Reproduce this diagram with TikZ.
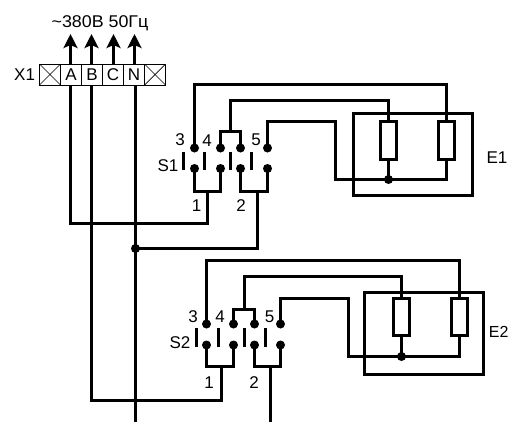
\documentclass[tikz,border=0pt]{standalone}
\usepackage{fontspec}
\setmainfont{Liberation Sans}
\usetikzlibrary{arrows.meta,calc}
\tikzset{
  every node/.style={inner sep=0pt,outer sep=0pt},
  wire/.style={line width=3pt,black,line cap=rect,line join=miter},
  feed/.style={line width=3pt,black,-{Stealth[length=14pt,width=14pt,inset=3pt]}},
  cell/.style={draw,line width=1pt,minimum width=21pt,minimum height=21pt,font=\fontsize{17}{17}\selectfont},
  xcell/.style={cell,path picture={\draw[line width=0.7pt] (path picture bounding box.north west)--(path picture bounding box.south east)
     (path picture bounding box.north east)--(path picture bounding box.south west);}},
  contact/.style={circle,fill=black,minimum size=9pt},
  joint/.style={circle,fill=black,minimum size=9pt},
  res/.style={draw,line width=3pt,minimum width=16pt},
  unit/.style={draw,line width=3pt},
  blade/.style={line width=3pt,black},
  lbl/.style={font=\fontsize{17}{17}\selectfont,text=black}
}
\begin{document}
\begin{tikzpicture}[x=1pt,y=-1pt]
\useasboundingbox (0,0) rectangle (509,421);
% terminal block
\node[xcell] (t0) at (50,74.5) {};
\node[cell] (tA) at (71,74.5) {A};
\node[cell] (tB) at (92,74.5) {B};
\node[cell] (tC) at (113,74.5) {C};
\node[cell] (tN) at (134,74.5) {N};
\node[xcell] (t5) at (155,74.5) {};
\node[lbl,anchor=east] (x1) at (35,75) {X1};
\node[lbl,xscale=1.05] (supply) at (100,23) {\char"7E 380В 50Гц};
\coordinate (aA) at (70.5,34); \coordinate (aB) at (91.5,34); \coordinate (aC) at (113.5,34); \coordinate (aN) at (134.5,34);
\draw[feed] (aA |- tA.north) -- (aA);
\draw[feed] (aB |- tB.north) -- (aB);
\draw[feed] (aC |- tC.north) -- (aC);
\draw[feed] (aN |- tN.north) -- (aN);
% S1
\foreach \n/\x in {a/194.5,b/220.5,c/240.5,d/267.5}{
  \node[contact] (s1u\n) at (\x,148) {};
  \node[contact] (s1l\n) at (\x,168.5) {};
}
\coordinate (s1bl1t) at (183.5,152); \coordinate (s1bl1b) at (183.5,170);
\coordinate (s1bl2t) at (204.5,152); \coordinate (s1bl2b) at (204.5,170);
\coordinate (s1bl3t) at (230.5,152); \coordinate (s1bl3b) at (230.5,170);
\coordinate (s1bl4t) at (251.5,152); \coordinate (s1bl4b) at (251.5,170);
\draw[blade] (s1bl1t)--(s1bl1b) (s1bl2t)--(s1bl2b) (s1bl3t)--(s1bl3b) (s1bl4t)--(s1bl4b);
\node[lbl] (l3a) at (180,140) {3};
\node[lbl] (l4a) at (207,140.5) {4};
\node[lbl] (l5a) at (256,140) {5};
\node[lbl] (ls1) at (168,166) {S1};
\node[lbl] (l1a) at (196.5,206) {1};
\node[lbl] (l2a) at (241,206) {2};
% E1
\node[unit,minimum width=119pt,minimum height=82pt] (e1) at (413,154.5) {};
\node[res,minimum height=38pt] (r1a) at (388.5,140.5) {};
\node[res,minimum height=38pt] (r1b) at (446.5,140.5) {};
\node[lbl] (le1) at (497,158) {E1};
\node[joint] (j1) at (388.5,179.5) {};
\coordinate (c1a) at (194.5,84.5); \coordinate (c1b) at (230.5,100.5); \coordinate (c1c) at (267.5,121.5); \coordinate (c1d) at (335.5,179.5);
\coordinate (b1u) at (230.5,131.5); \coordinate (b1l) at (207.5,191.5); \coordinate (b2l) at (257.5,191.5);
\draw[wire] (s1ua.center) |- (c1a) -| (r1b.north);
\draw[wire] (s1ub.center) |- (b1u) -| (s1uc.center);
\draw[wire] (b1u) |- (c1b) -| (r1a.north);
\draw[wire] (s1ud.center) |- (c1c) -| (c1d) -| (r1b.south);
\draw[wire] (r1a.south) -- (j1);
\draw[wire] (s1la.center) |- (b1l) -| (s1lb.center);
\draw[wire] (s1lc.center) |- (b2l) -| (s1ld.center);
% S2
\foreach \n/\x in {a/206.5,b/233.5,c/254.5,d/280.5}{
  \node[contact] (s2u\n) at (\x,324) {};
  \node[contact] (s2l\n) at (\x,345) {};
}
\coordinate (s2bl1t) at (196.5,328); \coordinate (s2bl1b) at (196.5,346.5);
\coordinate (s2bl2t) at (218.5,328); \coordinate (s2bl2b) at (218.5,346.5);
\coordinate (s2bl3t) at (244.5,328); \coordinate (s2bl3b) at (244.5,346.5);
\coordinate (s2bl4t) at (265.5,328); \coordinate (s2bl4b) at (265.5,346.5);
\draw[blade] (s2bl1t)--(s2bl1b) (s2bl2t)--(s2bl2b) (s2bl3t)--(s2bl3b) (s2bl4t)--(s2bl4b);
\node[lbl] (l3b) at (193,317) {3};
\node[lbl] (l4b) at (220,317) {4};
\node[lbl] (l5b) at (269.5,317) {5};
\node[lbl] (ls2) at (180,343) {S2};
\node[lbl] (l1b) at (209,383) {1};
\node[lbl] (l2b) at (254,383) {2};
% E2
\node[unit,minimum width=119pt,minimum height=82pt] (e2) at (424,333.5) {};
\node[res,minimum height=37pt] (r2a) at (401.5,317) {};
\node[res,minimum height=37pt] (r2b) at (459.5,317) {};
\node[lbl,anchor=east,font=\fontsize{16}{16}\selectfont] (le2) at (508.5,331.5) {E2};
\node[joint] (j2) at (401.5,356.5) {};
\coordinate (c2a) at (206.5,260.5); \coordinate (c2b) at (244.5,276.5); \coordinate (c2c) at (280.5,298.5); \coordinate (c2d) at (348.5,356.5);
\coordinate (b3u) at (244.5,309.5); \coordinate (b3l) at (221.5,366.5); \coordinate (b4l) at (270.5,366.5);
\draw[wire] (s2ua.center) |- (c2a) -| (r2b.north);
\draw[wire] (s2ub.center) |- (b3u) -| (s2uc.center);
\draw[wire] (b3u) |- (c2b) -| (r2a.north);
\draw[wire] (s2ud.center) |- (c2c) -| (c2d) -| (r2b.south);
\draw[wire] (r2a.south) -- (j2);
\draw[wire] (s2la.center) |- (b3l) -| (s2lb.center);
\draw[wire] (s2lc.center) |- (b4l) -| (s2ld.center);
% mains
\coordinate (wA) at (70.5,87); \coordinate (wB) at (91.5,87); \coordinate (wN) at (135.5,87);
\coordinate (endN) at (135.5,421); \coordinate (end2) at (270.5,421);
\node[joint] (jN) at (135.5,248.5) {};
\draw[wire] (wA) |- (207.5,223.5) -- (b1l);
\draw[wire] (wB) |- (221.5,400.5) -- (b3l);
\draw[wire] (wN) -- (endN);
\draw[wire] (jN) -| (b2l);
\draw[wire] (b4l) -- (end2);
\end{tikzpicture}
\end{document}
